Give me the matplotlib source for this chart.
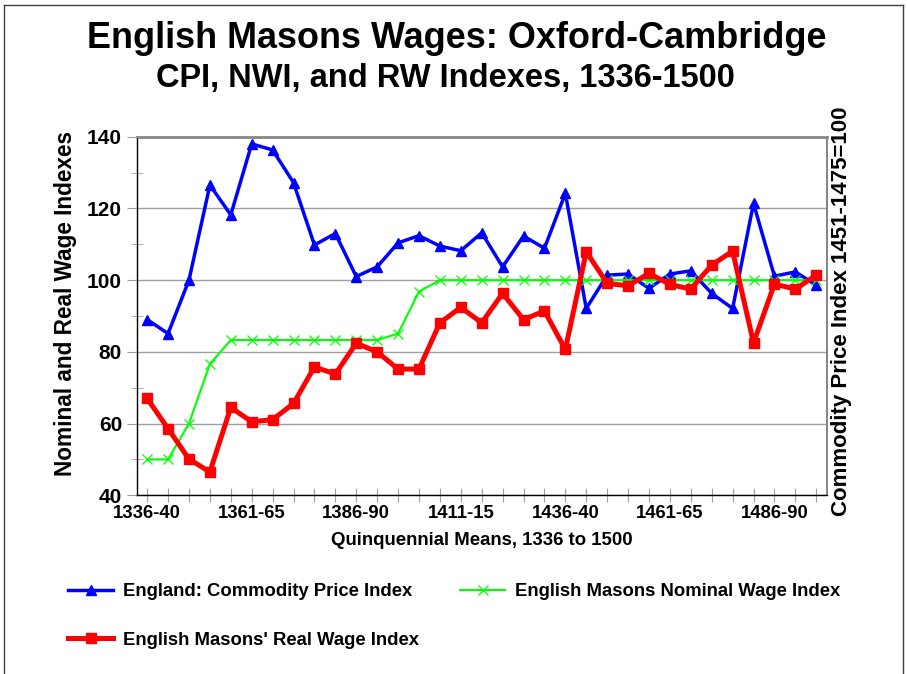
# English masons' wages, Oxford-Cambridge: CPI, NWI and RW indexes 1336-1500

import matplotlib
matplotlib.use("Agg")
import matplotlib.pyplot as plt
from matplotlib.lines import Line2D

plt.rcParams["font.family"] = ["Liberation Sans", "DejaVu Sans"]
plt.rcParams["font.weight"] = "bold"

# quinquennia, 1336-40 .. 1496-1500
PERIODS = [f"{y}-{str(y + 4)[-2:]}" for y in range(1336, 1500, 5)]
TICK_EVERY = 5

CPI = [89.0, 85.1, 100.0, 126.5, 118.2, 138.0, 136.3, 127.2, 109.8, 113.0, 101.0,
       103.7, 110.4, 112.4, 109.5, 108.2, 113.2, 103.7, 112.3, 108.9, 124.2,
       92.1, 101.4, 101.7, 97.7, 101.7, 102.6, 96.3, 92.1, 121.4, 101.1, 102.3, 98.6]
NWI = [50.0, 50.0, 60.0, 76.6, 83.3, 83.3, 83.3, 83.3, 83.3, 83.3, 83.3,
       83.3, 85.1, 96.8, 100.0, 100.0, 100.0, 100.0, 100.0, 100.0, 100.0,
       100.0, 100.0, 100.0, 100.0, 100.0, 100.0, 100.0, 100.0, 100.0, 100.0, 100.0, 100.0]
RWI = [67.0, 58.6, 50.1, 46.5, 64.5, 60.5, 61.1, 65.6, 75.8, 73.8, 82.4,
       80.0, 75.2, 75.2, 88.1, 92.4, 88.1, 96.3, 89.0, 91.4, 80.7,
       107.9, 99.1, 98.4, 101.9, 98.8, 97.5, 104.2, 108.1, 82.5, 98.9, 97.5, 101.4]

LABEL_CPI = "England: Commodity Price Index"
LABEL_NWI = "English Masons Nominal Wage Index"
LABEL_RWI = "English Masons' Real Wage Index"

W, H = 907, 674
fig = plt.figure(figsize=(W / 100, H / 100), dpi=100)
ax = fig.add_axes([136.7 / W, 1 - 495.3 / H, 690 / W, 358.6 / H])

x = list(range(len(PERIODS)))
l_cpi, = ax.plot(x, CPI, color="#0000ff", lw=2.5, marker="^", ms=7.5, zorder=3)
l_nwi, = ax.plot(x, NWI, color="#00ff00", lw=1.5, marker="x", ms=6.5, mew=0.9, zorder=4)
l_rwi, = ax.plot(x, RWI, color="#ff0000", lw=3.6, marker="s", ms=7, zorder=5)

ax.set_xlim(-0.5, len(PERIODS) - 0.5)
ax.set_ylim(40, 140)
ax.set_xticks(x)
ax.set_xticklabels([p if i % TICK_EVERY == 0 else "" for i, p in enumerate(PERIODS)],
                   fontsize=13.3, fontweight="bold")
ax.set_yticks(range(40, 141, 20))
ax.set_yticks(range(50, 140, 20), minor=True)
ax.tick_params(axis="y", which="major", labelsize=15, direction="out", length=7.5,
               color="#a0a0a0", pad=3)
ax.tick_params(axis="y", which="minor", direction="inout", length=9, color="#a0a0a0")
ax.tick_params(axis="x", direction="inout", length=10, color="#a0a0a0", pad=2)
for lab in ax.get_yticklabels():
    lab.set_fontweight("bold")

ax.grid(axis="y", color="#a0a0a0", lw=1.0)
ax.set_axisbelow(True)
ax.spines["top"].set_color("#888888")
ax.spines["top"].set_linewidth(2)
ax.spines["right"].set_color("#707070")
ax.spines["right"].set_linewidth(1.2)
ax.spines["left"].set_linewidth(1.0)
ax.spines["bottom"].set_linewidth(1.0)

ax.set_xlabel("Quinquennial Means, 1336 to 1500", fontsize=13.4, fontweight="bold", labelpad=7)

fig.text(66 / W, 1 - 304 / H, "Nominal and Real Wage Indexes", rotation=90,
         fontsize=16.3, fontweight="bold", ha="center", va="center")
fig.text(841 / W, 1 - 311 / H, "Commodity Price Index 1451-1475=100", rotation=90,
         fontsize=16, fontweight="bold", ha="center", va="center")

fig.text(457 / W, 1 - 38 / H, "English Masons Wages: Oxford-Cambridge",
         fontsize=25.9, fontweight="bold", ha="center", va="center")
fig.text(445 / W, 1 - 79 / H, "CPI, NWI, and RW Indexes, 1336-1500",
         fontsize=23.5, fontweight="bold", ha="center", va="center")

fig.legend([l_cpi, l_rwi, l_nwi], [LABEL_CPI, LABEL_RWI, LABEL_NWI],
           loc="upper left", bbox_to_anchor=(68 / W, 1 - 583 / H), ncol=2,
           frameon=False, borderpad=0, borderaxespad=0,
           handlelength=2.44, handletextpad=0.55, columnspacing=2.21, labelspacing=1.72,
           prop={"weight": "bold", "size": 13.3})

# outer frame (left, top, right)
for xs, ys in [((4 / W, 4 / W), (0, 1 - 5 / H)),
               ((4 / W, 903 / W), (1 - 5 / H, 1 - 5 / H)),
               ((903 / W, 903 / W), (0, 1 - 5 / H))]:
    fig.add_artist(Line2D(xs, ys, color="#404040", lw=1.0))

fig.savefig("out.png", dpi=100)
